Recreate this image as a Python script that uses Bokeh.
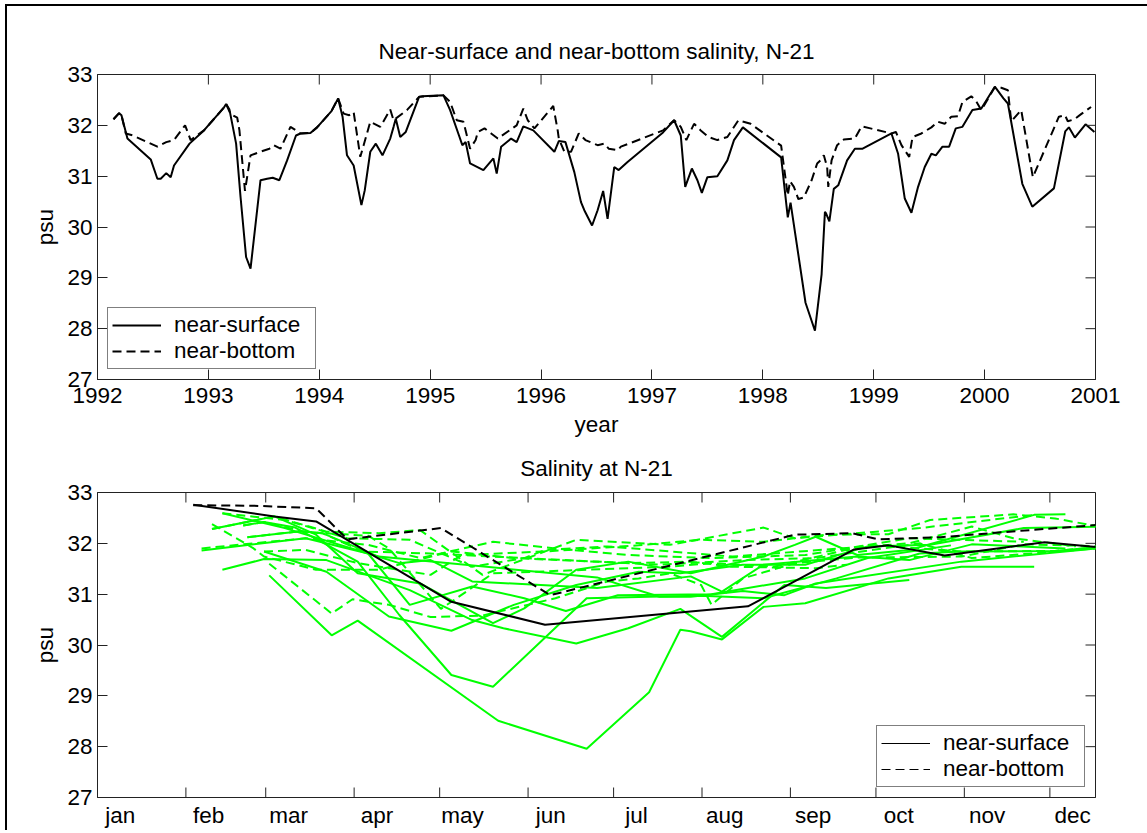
import numpy as np
from bokeh.plotting import figure
from bokeh.models import (FixedTicker, Legend, LegendItem, Range1d, ColumnDataSource)
from bokeh.layouts import column
from bokeh.embed import file_html
from bokeh.resources import INLINE

FONT = "Liberation Sans"
FS = "22.5px"

# ---------------- data ----------------
surf_t = [1992.144, 1992.195, 1992.216, 1992.27, 1992.48, 1992.54, 1992.57, 1992.62, 1992.66, 1992.69,
          1992.83, 1992.96, 1993.14, 1993.16, 1993.19, 1993.25, 1993.29, 1993.34, 1993.38, 1993.47,
          1993.53, 1993.58, 1993.64, 1993.71, 1993.79, 1993.83, 1993.92, 1993.98, 1994.11,
          1994.17, 1994.21, 1994.25, 1994.31, 1994.38, 1994.41, 1994.46, 1994.51, 1994.57, 1994.64,
          1994.67, 1994.69, 1994.73, 1994.78, 1994.90, 1994.93, 1995.12, 1995.18, 1995.26, 1995.29,
          1995.32, 1995.36, 1995.48, 1995.57, 1995.60, 1995.64, 1995.73, 1995.78, 1995.84, 1995.93,
          1996.12, 1996.16, 1996.22, 1996.30, 1996.36, 1996.39, 1996.46, 1996.51, 1996.56, 1996.60,
          1996.66, 1996.70, 1996.78, 1997.10, 1997.20, 1997.26, 1997.30, 1997.36, 1997.41, 1997.45,
          1997.50, 1997.59, 1997.68, 1997.74, 1997.82, 1998.165, 1998.225, 1998.25, 1998.385,
          1998.47, 1998.53, 1998.56, 1998.57, 1998.60, 1998.64, 1998.68, 1998.76, 1998.83, 1998.90,
          1999.16, 1999.22, 1999.28, 1999.34, 1999.40, 1999.46, 1999.52, 1999.56, 1999.62, 1999.68,
          1999.74, 1999.80, 1999.89, 1999.97, 2000.092, 2000.17, 2000.21, 2000.34, 2000.43, 2000.625,
          2000.727, 2000.76, 2000.814, 2000.91, 2000.99]
surf_v = [32.12, 32.24, 32.20, 31.74, 31.33, 30.95, 30.95, 31.06, 30.98, 31.21,
          31.64, 31.90, 32.35, 32.42, 32.31, 31.64, 30.59, 29.41, 29.18, 30.92,
          30.95, 30.97, 30.92, 31.31, 31.80, 31.84, 31.85, 31.96, 32.28,
          32.53, 32.17, 31.41, 31.21, 30.43, 30.72, 31.48, 31.64, 31.41, 31.74,
          31.97, 32.13, 31.77, 31.87, 32.56, 32.57, 32.59, 32.30, 31.80, 31.61,
          31.67, 31.25, 31.12, 31.35, 31.05, 31.58, 31.74, 31.67, 31.98, 31.90,
          31.48, 31.69, 31.67, 31.08, 30.49, 30.33, 30.03, 30.33, 30.71, 30.16,
          31.18, 31.12, 31.28, 31.86, 32.10, 31.80, 30.79, 31.15, 30.92, 30.67,
          30.98, 31.00, 31.31, 31.71, 31.96, 31.37, 30.19, 30.48, 28.51,
          27.96, 29.07, 30.30, 30.27, 30.11, 30.75, 30.82, 31.31, 31.54, 31.54,
          31.84, 31.44, 30.56, 30.28, 30.79, 31.18, 31.44, 31.41, 31.58, 31.58,
          31.94, 31.97, 32.30, 32.33, 32.76, 32.53, 32.43, 30.85, 30.40, 30.76,
          31.88, 31.96, 31.76, 32.02, 31.87]

bot_t = [1992.144, 1992.195, 1992.216, 1992.255, 1992.32, 1992.54, 1992.62, 1992.69, 1992.79, 1992.84,
         1992.96, 1993.14, 1993.16, 1993.20, 1993.26, 1993.28, 1993.33, 1993.38, 1993.47, 1993.55,
         1993.59, 1993.65, 1993.74, 1993.79, 1993.83, 1993.92, 1993.98, 1994.11,
         1994.17, 1994.22, 1994.27, 1994.31, 1994.37, 1994.40, 1994.46, 1994.55, 1994.64, 1994.67,
         1994.79, 1994.90, 1995.12, 1995.18, 1995.24, 1995.30, 1995.36, 1995.41, 1995.43, 1995.49,
         1995.55, 1995.61, 1995.78, 1995.84, 1995.88, 1995.94, 1996.11, 1996.15, 1996.16, 1996.21,
         1996.27, 1996.34, 1996.40, 1996.51, 1996.57, 1996.61, 1996.69, 1996.72, 1997.10, 1997.20,
         1997.26, 1997.31, 1997.38, 1997.44, 1997.51, 1997.59, 1997.68, 1997.78, 1997.89, 1998.165,
         1998.225, 1998.245, 1998.28, 1998.32, 1998.37, 1998.44, 1998.49, 1998.52, 1998.55,
         1998.58, 1998.59, 1998.62, 1998.67, 1998.73, 1998.83, 1998.89, 1998.97, 1999.16, 1999.20,
         1999.25, 1999.32, 1999.35, 1999.43, 1999.52, 1999.58, 1999.64, 1999.70, 1999.76, 1999.80,
         1999.88, 1999.92, 1999.97, 2000.092, 2000.15, 2000.21, 2000.24, 2000.33, 2000.435, 2000.67,
         2000.725, 2000.75, 2000.81, 2000.87, 2000.96]
bot_v = [32.12, 32.24, 32.20, 31.84, 31.80, 31.58, 31.67, 31.71, 32.00, 31.71,
         31.90, 32.35, 32.42, 32.22, 32.15, 31.90, 30.71, 31.41, 31.48, 31.54,
         31.61, 31.54, 31.97, 31.90, 31.84, 31.85, 31.96, 32.28,
         32.53, 32.23, 32.20, 32.26, 31.38, 31.61, 32.07, 31.97, 32.31, 32.10,
         32.30, 32.56, 32.59, 32.46, 32.10, 32.07, 31.54, 31.71, 31.87, 31.94,
         31.84, 31.74, 32.00, 32.33, 32.10, 31.94, 32.38, 31.90, 31.74, 31.48,
         31.48, 31.84, 31.71, 31.61, 31.64, 31.54, 31.51, 31.58, 31.90, 32.10,
         31.97, 31.71, 32.03, 31.90, 31.77, 31.71, 31.77, 32.10, 32.03, 31.60,
         30.62, 30.90, 30.79, 30.55, 30.58, 30.92, 31.25, 31.31, 31.41,
         31.18, 30.79, 31.31, 31.61, 31.72, 31.74, 31.98, 31.94, 31.84, 31.87,
         31.61, 31.38, 31.77, 31.84, 31.96, 32.07, 32.03, 32.17, 32.18, 32.46,
         32.57, 32.49, 32.30, 32.75, 32.74, 32.69, 32.08, 32.30, 30.98, 32.17,
         32.20, 32.08, 32.12, 32.22, 32.36]

year_ticks = list(range(1992, 2002))
psu_ticks = [27, 28, 29, 30, 31, 32, 33]
month_names = ["jan", "feb", "mar", "apr", "may", "jun", "jul", "aug", "sep", "oct", "nov", "dec"]
month_start = [1, 32, 60, 91, 121, 152, 182, 213, 244, 274, 305, 335]
day_range = [1, 351]
highlight_year = 2000

TITLE_TOP = "Near-surface and near-bottom salinity, N-21"
TITLE_BOTTOM = "Salinity at N-21"

AXC = "#222222"
TICK_LEN = 10


def base_style(p):
    p.xgrid.visible = False
    p.ygrid.visible = False
    p.outline_line_color = AXC
    p.background_fill_color = "white"
    p.border_fill_color = "white"
    p.title.text_font = FONT
    p.title.text_font_size = FS
    p.title.text_font_style = "normal"
    p.title.align = "center"
    p.title.text_color = "black"


def axis_style(ax):
    ax.major_tick_in = TICK_LEN
    ax.major_tick_out = 0
    ax.minor_tick_line_color = None
    ax.major_tick_line_color = AXC
    ax.axis_line_color = AXC
    ax.major_label_text_font = FONT
    ax.major_label_text_font_size = FS
    ax.major_label_text_color = "black"
    ax.axis_label_text_font = FONT
    ax.axis_label_text_font_size = FS
    ax.axis_label_text_font_style = "normal"
    ax.axis_label_text_color = "black"


def inner_ticks(p, xs, ys, angle):
    # inward tick marks on the top / right sides of the box
    p.ray(x=xs, y=ys, length=TICK_LEN, length_units="screen", angle=angle,
          line_color=AXC, line_width=1)


def legend_style(leg):
    leg.label_text_font = FONT
    leg.label_text_font_size = FS
    leg.label_text_color = "black"
    leg.border_line_color = "black"
    leg.border_line_width = 1
    leg.background_fill_alpha = 1
    leg.glyph_width = 49
    leg.glyph_height = 22
    leg.label_height = 22
    leg.label_width = 137
    leg.label_standoff = 13
    leg.padding = 4
    leg.spacing = 0
    leg.margin = 10


# ---------------- top figure ----------------
p1 = figure(frame_width=998, frame_height=305,
            x_range=Range1d(year_ticks[0], year_ticks[-1]), y_range=Range1d(psu_ticks[0], psu_ticks[-1]),
            output_backend="svg", toolbar_location=None, title=TITLE_TOP,
            min_border_left=90, min_border_right=52, min_border_top=68, min_border_bottom=61)
base_style(p1)
p1.title.standoff = 21

r_s = p1.line(surf_t, surf_v, line_color="black", line_width=2)
r_b = p1.line(bot_t, bot_v, line_color="black", line_width=2, line_dash="9 5")

p1.xaxis.ticker = FixedTicker(ticks=year_ticks)
p1.yaxis.ticker = FixedTicker(ticks=psu_ticks)
p1.xaxis.axis_label = "year"
p1.yaxis.axis_label = "psu"
axis_style(p1.xaxis[0])
axis_style(p1.yaxis[0])
p1.xaxis.major_label_standoff = 8
p1.yaxis.major_label_standoff = 5
p1.xaxis.axis_label_standoff = 6
p1.yaxis.axis_label_standoff = 6
inner_ticks(p1, year_ticks, [psu_ticks[-1]] * len(year_ticks), -np.pi / 2)
inner_ticks(p1, [year_ticks[-1]] * len(psu_ticks), psu_ticks, np.pi)

leg1 = Legend(items=[LegendItem(label="near-surface", renderers=[r_s]),
                     LegendItem(label="near-bottom", renderers=[r_b])],
              location="bottom_left")
legend_style(leg1)
p1.add_layout(leg1)

# ---------------- bottom figure ----------------
p2 = figure(frame_width=998, frame_height=305,
            x_range=Range1d(day_range[0], day_range[1]), y_range=Range1d(psu_ticks[0], psu_ticks[-1]),
            output_backend="svg", toolbar_location=None, title=TITLE_BOTTOM,
            min_border_left=90, min_border_right=52, min_border_top=52, min_border_bottom=26)
base_style(p2)
p2.title.standoff = 24

st = np.array(surf_t); sv = np.array(surf_v)
bt = np.array(bot_t); bv = np.array(bot_v)
years = sorted(set(np.floor(st).astype(int)) | set(np.floor(bt).astype(int)))
for yr in years:
    if yr == highlight_year:
        continue
    m = np.floor(st).astype(int) == yr
    p2.line((st[m] - yr) * 365 + 1, sv[m], line_color="#00ff00", line_width=2)
    m = np.floor(bt).astype(int) == yr
    p2.line((bt[m] - yr) * 365 + 1, bv[m], line_color="#00ff00", line_width=2, line_dash="9 5")
m = np.floor(st).astype(int) == highlight_year
p2.line((st[m] - highlight_year) * 365 + 1, sv[m], line_color="black", line_width=2)
m = np.floor(bt).astype(int) == highlight_year
p2.line((bt[m] - highlight_year) * 365 + 1, bv[m], line_color="black", line_width=2, line_dash="9 5")

# legend proxies (thin lines, as in the reference) - never visible in the frame
proxy = ColumnDataSource(data=dict(x=[np.nan], y=[np.nan]))
l_s = p2.line("x", "y", source=proxy, line_color="black", line_width=1)
l_b = p2.line("x", "y", source=proxy, line_color="black", line_width=1, line_dash="9 5")

label_pos = [d + 8 for d in month_start]
p2.xaxis.ticker = FixedTicker(ticks=label_pos)
p2.xaxis.major_label_overrides = {pos: name for pos, name in zip(label_pos, month_names)}
axis_style(p2.xaxis[0])
p2.xaxis.major_tick_in = 0
p2.xaxis.major_tick_line_color = None
p2.xaxis.major_label_standoff = 5
p2.yaxis.ticker = FixedTicker(ticks=psu_ticks)
p2.yaxis.axis_label = "psu"
axis_style(p2.yaxis[0])
p2.yaxis.major_label_standoff = 5
p2.yaxis.axis_label_standoff = 6
inner_ticks(p2, month_start[1:], [psu_ticks[0]] * (len(month_start) - 1), np.pi / 2)
inner_ticks(p2, month_start[1:], [psu_ticks[-1]] * (len(month_start) - 1), -np.pi / 2)
inner_ticks(p2, [day_range[1]] * len(psu_ticks), psu_ticks, np.pi)

leg2 = Legend(items=[LegendItem(label="near-surface", renderers=[l_s]),
                     LegendItem(label="near-bottom", renderers=[l_b])],
              location="bottom_right")
legend_style(leg2)
p2.add_layout(leg2)

layout = column(p1, p2, spacing=0,
                styles={"border-left": "2px solid black", "border-top": "2px solid black",
                        "margin-left": "5px", "margin-top": "4px"})

open("out.html", "w").write(file_html(layout, INLINE))
